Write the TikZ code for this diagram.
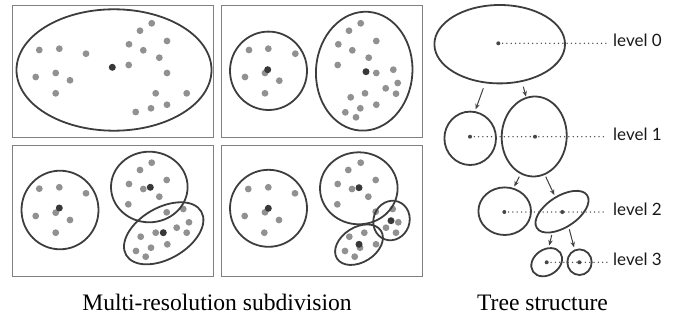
\documentclass[tikz,border=0pt]{standalone}
\usepackage{fontspec}
\setmainfont{Liberation Serif}
\newfontfamily\lvlfont{Lato}
\usetikzlibrary{arrows.meta,shapes.geometric}
\begin{document}
\begin{tikzpicture}[x=1pt,y=-1pt,
  panel/.style={draw=black!50, line width=0.9pt},
  clus/.style={draw=black!76, line width=1.8pt},
  gdot/.style={fill=black!43},
  ddot/.style={fill=black!78},
  tdot/.style={fill=black!72},
  lvl/.style={font=\lvlfont\fontsize{17}{20}\selectfont, anchor=base west, inner sep=3pt, text=black!90},
  dotline/.style={black!72, line width=1.5pt, line cap=round, dash pattern=on 0pt off 4.3pt},
  arr/.style={black!75, line width=1pt, -{Stealth[length=5.5pt,width=4.5pt]}},
  captext/.style={font=\fontsize{23.6}{28}\selectfont, anchor=base, inner sep=0pt},
  tnode/.style={clus, ellipse, inner sep=0pt}
]
\useasboundingbox (0,0) rectangle (692,320);

% ---------- panels ----------
\draw[panel] (12,5) rectangle (213,137);
\draw[panel] (221,5) rectangle (422,137);
\draw[panel] (12,145) rectangle (213,276);
\draw[panel] (221,145) rectangle (422,276);

% ---------- panel 1 ----------
\foreach \x/\y in {39.3/50,59.3/48.7,86/53.7,35.7/77,55.7/73,70/80.3,55.7/93.3,
  151.7/23.3,140/30.7,129/44.3,167/41,143.3/50.3,159.3/57.7,128.7/65,167/73,
  155.7/93.3,186.7/93.3,167/104.7,151/108.3,135.7/112}
  \fill[gdot] (\x,\y) circle[radius=3.4pt];
\fill[ddot] (112.3,67.3) circle[radius=3.5pt];
\draw[clus] (114,70) ellipse[x radius=97.5pt, y radius=60.7pt];

% ---------- panel 2 ----------
\foreach \x/\y in {249/50,268.3/48.7,295.3/53.7,245/77,265/73,279.3/80.7,265/93.3,
  360.7/23.3,349/30.7,376.3/41,338.3/44.3,352.3/50.3,368.7/57.7,337.7/65,376.3/73,
  393.3/69.7,397.7/83,385.7/88.3,396/93.7,365/93.3,350.7/97.3,376.3/104.7,
  360.3/108.3,345.3/112.3,356/117.3}
  \fill[gdot] (\x,\y) circle[radius=3.4pt];
\fill[ddot] (267.7,69.7) circle[radius=3.5pt];
\fill[ddot] (366,71.7) circle[radius=3.5pt];
\draw[clus] (268.5,70.8) ellipse[x radius=38.5pt, y radius=39.2pt];
\draw[clus, rotate around={-4:(364.2,71.2)}] (364.2,71.2) ellipse[x radius=48.2pt, y radius=59.5pt];

% ---------- panel 3 ----------
\foreach \x/\y in {39.3/188.7,59.3/187.3,86/193.3,35.7/216,55.7/212.7,70/220,55.7/232.7,
  151.7/162.7,140/170,166.7/180,129/184,143.3/189,159.3/196.7,128.3/204.3,
  166.7/212.3,183.3/209,189/222.3,176.7/227.7,186.7/232.7,155.7/232.7,140.7/236.7,
  167.3/244.3,151/247.7,136/251,145.7/256.7}
  \fill[gdot] (\x,\y) circle[radius=3.4pt];
\fill[ddot] (59.3,208) circle[radius=3.5pt];
\fill[ddot] (150.3,187.3) circle[radius=3.5pt];
\fill[ddot] (163.3,232.7) circle[radius=3.5pt];
\draw[clus] (60,210) ellipse[x radius=38.5pt, y radius=39.3pt];
\draw[clus] (149.3,187) ellipse[x radius=38.3pt, y radius=35.3pt];
\draw[clus, rotate around={30:(163.7,233.3)}] (163.7,233.3) ellipse[x radius=43.4pt, y radius=25.6pt];

% ---------- panel 4 ----------
\foreach \x/\y in {248.3/189,268.3/187.3,295/193.3,244.7/216,265/212.3,279/220,264.3/232.7,
  360.7/162.7,348.3/170,375.7/180,337.7/184,352/189,368.3/196.7,337.3/204.3,
  375.7/211.7,392.7/209,398.3/222.3,386/227.7,396/232.7,
  364.3/232.7,349.3/236.7,376/244.3,360/247.7,345/251,354.7/256.7}
  \fill[gdot] (\x,\y) circle[radius=3.4pt];
\fill[ddot] (268.3,208.3) circle[radius=3.5pt];
\fill[ddot] (359,187.7) circle[radius=3.5pt];
\fill[ddot] (391,220.7) circle[radius=3.5pt];
\fill[ddot] (359,244.3) circle[radius=3.5pt];
\draw[clus] (268.5,208.3) ellipse[x radius=38.5pt, y radius=38.5pt];
\draw[clus] (358.8,188.3) ellipse[x radius=38.8pt, y radius=36pt];
\draw[clus, rotate around={-20:(391.5,220.5)}] (391.5,220.5) ellipse[x radius=18pt, y radius=20pt];
\draw[clus, rotate around={32:(359,244.7)}] (359,244.7) ellipse[x radius=26pt, y radius=17.5pt];

% ---------- captions ----------
\node[captext] (cap1) at (217,310.7) {Multi-resolution subdivision};
\node[captext] (cap2) at (542.5,310.7) {Tree structure};

% ---------- tree ----------
\node[tnode, minimum width=130.6pt, minimum height=78.4pt] (L0) at (499.7,44.2) {};
\node[tnode, minimum width=51.6pt, minimum height=53.4pt] (L1a) at (470.2,138.3) {};
\node[tnode, minimum width=65pt, minimum height=80pt, rotate=-3] (L1b) at (534.2,136.5) {};
\node[tnode, minimum width=52.6pt, minimum height=47.6pt] (L2a) at (504.7,211.2) {};
\node[tnode, minimum width=60pt, minimum height=31pt, rotate=33] (L2b) at (562,211.7) {};
\node[tnode, minimum width=33.2pt, minimum height=25.4pt, rotate=35] (L3a) at (546.7,262.2) {};
\node[tnode, minimum width=24.4pt, minimum height=25.6pt] (L3b) at (579.5,262.2) {};

\coordinate (t0) at (498.3,43.3);
\coordinate (t1a) at (470,136.7);
\coordinate (t1b) at (535,136.7);
\coordinate (t2a) at (504.3,212);
\coordinate (t2b) at (562.3,212);
\coordinate (t3a) at (546.7,262.3);
\coordinate (t3b) at (579.3,262.3);

\node[lvl] (lab0) at (610,46.8) {level 0};
\node[lvl] (lab1) at (610,140.2) {level 1};
\node[lvl] (lab2) at (610,215.5) {level 2};
\node[lvl] (lab3) at (610,265.8) {level 3};

\draw[dotline] (t0) -- ([xshift=-1pt]t0 -| lab0.west);
\draw[dotline] (t1a) -- ([xshift=-6pt]t1a -| lab1.west);
\draw[dotline] (t2a) -- ([xshift=-3pt]t2a -| lab2.west);
\draw[dotline] (t3a) -- ([xshift=-1pt]t3a -| lab3.west);

\foreach \c in {t0,t1a,t1b,t2a,t2b,t3a,t3b}
  \fill[tdot] (\c) circle[radius=2pt];

% arrows
\coordinate (a1s) at (483.3,88.3);   \coordinate (a1e) at (475.7,109.3);
\coordinate (a2s) at (523.3,86.7);   \coordinate (a2e) at (526,96.5);
\coordinate (a3s) at (519.3,176.7);  \coordinate (a3e) at (514.3,186.5);
\coordinate (a4s) at (545.7,176.7);  \coordinate (a4e) at (554.3,195);
\coordinate (a5s) at (551.7,235);    \coordinate (a5e) at (549.3,245.5);
\coordinate (a6s) at (569.3,229.3);  \coordinate (a6e) at (574,247.3);
\draw[arr] (a1s) -- (a1e);
\draw[arr] (a2s) -- (a2e);
\draw[arr] (a3s) -- (a3e);
\draw[arr] (a4s) -- (a4e);
\draw[arr] (a5s) -- (a5e);
\draw[arr] (a6s) -- (a6e);
\end{tikzpicture}
\end{document}
